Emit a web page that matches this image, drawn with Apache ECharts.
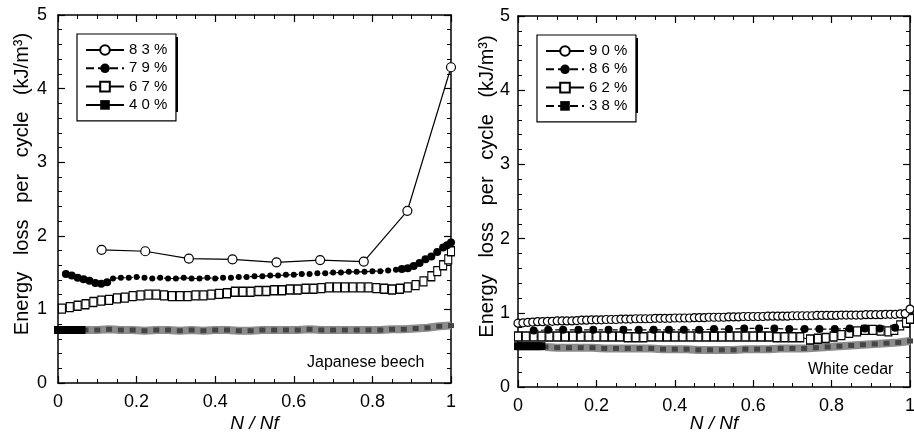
<!DOCTYPE html>
<html lang="en">
<head>
<meta charset="UTF-8">
<title>Energy loss per cycle</title>
<script src="https://cdn.jsdelivr.net/npm/echarts@6.0.0/dist/echarts.min.js"></script>
<style>html,body{margin:0;padding:0;background:#fff}</style>
</head>
<body>
<div id="main" style="width:914px;height:432px;"></div>
<script>
// ---------- Japanese beech ----------
var b83x = [0.111, 0.222, 0.333, 0.444, 0.556, 0.667, 0.778, 0.889, 1.0];
var b83y = [1.81, 1.79, 1.69, 1.68, 1.64, 1.67, 1.65, 2.34, 4.29];

var b79x = [0.02,0.035,0.05,0.065,0.08,0.095,0.11,0.125,
  0.14,0.16,0.18,0.20,0.22,0.24,0.26,0.28,0.30,0.32,0.34,0.36,0.38,0.40,0.42,0.44,0.46,0.48,0.50,
  0.52,0.54,0.56,0.58,0.60,0.62,0.64,0.66,0.68,0.70,0.72,0.74,0.76,0.78,0.80,0.82,0.84,0.86,
  0.875,0.89,0.905,0.92,0.935,0.95,0.965,0.98,0.99,1.0];
var b79y = [1.48,1.46,1.43,1.41,1.39,1.36,1.35,1.37,
  1.42,1.43,1.43,1.44,1.43,1.42,1.43,1.42,1.42,1.43,1.42,1.42,1.43,1.42,1.43,1.43,1.44,1.44,1.45,
  1.45,1.46,1.46,1.47,1.47,1.48,1.48,1.49,1.49,1.50,1.50,1.51,1.51,1.51,1.52,1.52,1.53,1.54,
  1.55,1.56,1.59,1.63,1.68,1.72,1.78,1.84,1.87,1.91];

var b67x = [0.01,0.03,0.05,0.07,0.09,0.11,0.13,0.15,0.17,0.19,0.21,0.23,0.25,0.27,0.29,0.31,0.33,0.35,
  0.37,0.39,0.41,0.43,0.45,0.47,0.49,0.51,0.53,0.55,0.57,0.59,0.61,0.63,0.65,0.67,0.69,0.71,0.73,
  0.75,0.77,0.79,0.81,0.83,0.85,0.87,0.89,0.91,0.93,
  0.95,0.965,0.98,0.993,1.0];
var b67y = [1.01,1.03,1.05,1.07,1.10,1.12,1.13,1.15,1.16,1.18,1.19,1.20,1.20,1.19,1.18,1.18,1.18,1.19,
  1.19,1.20,1.21,1.22,1.24,1.24,1.24,1.25,1.25,1.26,1.26,1.27,1.27,1.28,1.28,1.29,1.30,1.30,1.30,
  1.30,1.30,1.30,1.29,1.28,1.27,1.28,1.30,1.33,1.38,
  1.45,1.52,1.60,1.68,1.79];

var blackX = [0, 0.01, 0.02, 0.03, 0.04, 0.05, 0.06];
var b40y = [0.72, 0.72, 0.72, 0.72, 0.72, 0.72, 0.72];

var bandX = [0.07,0.1,0.13,0.16,0.19,0.22,0.25,0.28,0.31,0.34,0.37,0.4,0.43,0.46,0.49,0.52,
  0.55,0.58,0.61,0.64,0.67,0.7,0.73,0.76,0.79,0.82,0.85,0.88,0.91,0.94,0.97,1.0];
var b40band = [0.72,0.72,0.73,0.72,0.72,0.71,0.72,0.72,0.71,0.72,0.71,0.72,0.72,0.71,0.71,0.72,
  0.72,0.72,0.72,0.73,0.72,0.72,0.72,0.72,0.72,0.72,0.73,0.73,0.74,0.75,0.77,0.78];

// ---------- White cedar ----------
var xFine = [0,0.0125,0.025,0.0375,0.05,0.0625,0.075,0.0875,0.1,0.1125,0.125,0.1375,0.15,0.1625,0.175,0.1875,
  0.2,0.2125,0.225,0.2375,0.25,0.2625,0.275,0.2875,0.3,0.3125,0.325,0.3375,0.35,0.3625,0.375,0.3875,
  0.4,0.4125,0.425,0.4375,0.45,0.4625,0.475,0.4875,0.5,0.5125,0.525,0.5375,0.55,0.5625,0.575,0.5875,
  0.6,0.6125,0.625,0.6375,0.65,0.6625,0.675,0.6875,0.7,0.7125,0.725,0.7375,0.75,0.7625,0.775,0.7875,
  0.8,0.8125,0.825,0.8375,0.85,0.8625,0.875,0.8875,0.9,0.9125,0.925,0.9375,0.95,0.9625,0.975,0.9875,1.0];
var w90y = [0.86,0.865,0.87,0.875,0.88,0.88,0.885,0.885,0.89,0.89,0.89,0.89,0.895,0.9,0.9,0.905,
  0.905,0.905,0.91,0.91,0.91,0.915,0.915,0.915,0.92,0.92,0.92,0.92,0.925,0.925,0.925,0.925,
  0.93,0.93,0.93,0.93,0.935,0.935,0.935,0.94,0.94,0.94,0.94,0.945,0.945,0.945,0.95,0.95,
  0.95,0.95,0.95,0.955,0.955,0.955,0.955,0.955,0.96,0.96,0.96,0.96,0.96,0.965,0.965,0.965,
  0.965,0.965,0.97,0.97,0.97,0.97,0.97,0.975,0.975,0.975,0.975,0.98,0.98,0.98,0.985,0.99,1.05];

var w86x = [0.04,0.077,0.115,0.154,0.192,0.231,0.269,0.308,0.346,0.385,0.423,0.462,0.5,
  0.538,0.577,0.615,0.654,0.692,0.731,0.769,0.808,0.846,0.885,0.923,0.962,1.0];
var w86y = [0.76,0.77,0.77,0.77,0.77,0.77,0.77,0.77,0.77,0.77,0.77,0.77,0.78,
  0.78,0.79,0.79,0.79,0.78,0.78,0.78,0.78,0.79,0.79,0.79,0.8,1.02];

var w62x = [0,0.02,0.04,0.06,0.08,0.1,0.12,0.14,0.16,0.18,0.2,0.22,0.24,0.26,0.28,0.3,0.32,0.34,0.36,
  0.38,0.4,0.42,0.44,0.46,0.48,0.5,0.52,0.54,0.56,0.58,0.6,0.62,0.64,0.66,0.68,0.7,0.72,
  0.745,0.765,0.785,0.805,0.825,0.845,0.865,0.885,0.905,0.925,0.945,0.96,0.975,0.99,1.0];
var w62y = [0.68,0.68,0.68,0.68,0.68,0.68,0.68,0.68,0.68,0.68,0.68,0.68,0.68,0.68,0.67,0.67,0.67,0.68,0.68,
  0.68,0.68,0.68,0.68,0.68,0.68,0.68,0.68,0.68,0.68,0.68,0.68,0.68,0.68,0.67,0.67,0.67,0.67,
  0.64,0.65,0.66,0.68,0.70,0.73,0.75,0.77,0.77,0.76,0.75,0.77,0.83,0.87,0.92];

var w38y = [0.55, 0.55, 0.55, 0.55, 0.55, 0.55, 0.55];
var w38band = [0.54,0.53,0.53,0.53,0.53,0.52,0.52,0.52,0.52,0.52,0.51,0.51,0.51,0.5,0.5,0.5,
  0.5,0.51,0.51,0.51,0.52,0.52,0.52,0.53,0.54,0.55,0.56,0.57,0.58,0.59,0.6,0.62];

var xTicks = ['0', '0.2', '0.4', '0.6', '0.8', '1'];
var yTicks = ['0', '1', '2', '3', '4', '5'];

var FONT = '"Liberation Sans", Arial, sans-serif';

function pts(xs, ys) {
    var out = [];
    for (var i = 0; i < xs.length; i++) out.push([xs[i], ys[i]]);
    return out;
}

function xAx(grid, pos, labels, gap) {
    return {
        type: 'value', gridIndex: grid, position: pos, min: 0, max: 1, interval: 0.2,
        axisLine: {show: true, onZero: false, lineStyle: {color: '#000', width: 1.5}},
        axisTick: {show: true, inside: true, length: 7, lineStyle: {color: '#000', width: 1.2}},
        minorTick: {show: true, splitNumber: 4, length: 4, lineStyle: {color: '#000', width: 1}},
        splitLine: {show: false},
        axisLabel: {show: labels, margin: 10, color: '#000', fontSize: 18, fontFamily: FONT,
            formatter: function (v) { return xTicks[Math.round(v / 0.2)]; }},
        name: labels ? 'N / Nf' : '', nameLocation: 'middle', nameGap: gap || 0, nameMoveOverlap: false,
        nameTextStyle: {color: '#000', fontSize: 19, fontStyle: 'italic', fontFamily: FONT}
    };
}

function yAx(grid, pos, labels, margin, gap) {
    return {
        type: 'value', gridIndex: grid, position: pos, min: 0, max: 5, interval: 1,
        axisLine: {show: true, onZero: false, lineStyle: {color: '#000', width: 1.5}},
        axisTick: {show: true, inside: true, length: 7, lineStyle: {color: '#000', width: 1.2}},
        minorTick: {show: true, splitNumber: 5, length: 4, lineStyle: {color: '#000', width: 1}},
        splitLine: {show: false},
        axisLabel: {show: labels, margin: margin, color: '#000', fontSize: 18, fontFamily: FONT,
            formatter: function (v) { return yTicks[Math.round(v)]; }},
        name: labels ? 'Energy   loss   per   cycle   (kJ/m\u00B3)' : '', nameLocation: 'middle',
        nameGap: gap, nameMoveOverlap: false,
        nameTextStyle: {color: '#000', fontSize: 20, fontFamily: FONT, padding: [0, 0, 0, 30]}
    };
}

function openSeries(name, xi, yi, data, sym, size, dashed) {
    return {
        name: name, type: 'line', xAxisIndex: xi, yAxisIndex: yi, data: data,
        symbol: sym, symbolSize: size, showAllSymbol: true,
        itemStyle: {color: '#fff', borderColor: '#000', borderWidth: 1.2},
        lineStyle: {color: '#000', width: 1.2, type: dashed ? 'dashed' : 'solid'}
    };
}

function fullSeries(name, xi, yi, data, sym, size, dashed) {
    return {
        name: name, type: 'line', xAxisIndex: xi, yAxisIndex: yi, data: data,
        symbol: sym, symbolSize: size, showAllSymbol: true,
        itemStyle: {color: '#000'},
        lineStyle: {color: '#000', width: 1.2, type: dashed ? 'dashed' : 'solid'}
    };
}

function bandSeries(name, xi, yi, data) {
    return {
        name: name, type: 'line', xAxisIndex: xi, yAxisIndex: yi, data: data,
        symbol: 'rect', symbolSize: [6, 5], showAllSymbol: true,
        itemStyle: {color: '#444'},
        lineStyle: {color: '#8c8c8c', width: 8}
    };
}

function legendFor(names, left, top) {
    return {
        data: names, orient: 'vertical', left: left, top: top,
        itemWidth: 38, itemHeight: 12, itemGap: 3.3,
        padding: [8.5, 8.6, 8.5, 8],
        backgroundColor: '#fff', borderColor: '#000', borderWidth: 1.2, borderRadius: 0,
        selectedMode: false, z: 5,
        textStyle: {color: '#000', fontSize: 15, fontFamily: FONT, lineHeight: 12}
    };
}

var myChart = echarts.init(document.getElementById('main'));

var midSize = function (v) { return (v[0] < 0.13 || v[0] > 0.87) ? 8 : 6; };

myChart.setOption({
    animation: false,
    backgroundColor: '#fff',
    grid: [
        {left: 58, right: 463, top: 15, bottom: 49, containLabel: false, outerBoundsMode: 'none'},
        {left: 518, right: 4, top: 16, bottom: 45, containLabel: false, outerBoundsMode: 'none'}
    ],
    xAxis: [xAx(0, 'bottom', true, 31), xAx(0, 'top', false), xAx(1, 'bottom', true, 27), xAx(1, 'top', false)],
    yAxis: [yAx(0, 'left', true, 11, 26), yAx(0, 'right', false, 0, 0),
            yAx(1, 'left', true, 8, 21), yAx(1, 'right', false, 0, 0)],
    legend: [
        legendFor(['8 3 %', '7 9 %', '6 7 %', '4 0 %'], 77, 34),
        legendFor(['9 0 %', '8 6 %', '6 2 %', '3 8 %'], 537, 35)
    ],
    graphic: [
        {type: 'rect', z: 1, shape: {x: 80, y: 37, width: 98, height: 75}, style: {fill: '#000'}},
        {type: 'rect', z: 1, shape: {x: 540, y: 38, width: 98, height: 75}, style: {fill: '#000'}},
        {type: 'text', left: 307, top: 355, style: {text: 'Japanese beech', fill: '#000', font: '16px ' + FONT}},
        {type: 'text', left: 808, top: 362, style: {text: 'White cedar', fill: '#000', font: '16px ' + FONT}}
    ],
    series: [
        bandSeries('b40band', 0, 0, pts(bandX, b40band)),
        fullSeries('4 0 %', 0, 0, pts(blackX, b40y), 'rect', 8, false),
        openSeries('6 7 %', 0, 0, pts(b67x, b67y), 'rect', [7, 9], false),
        fullSeries('7 9 %', 0, 0, pts(b79x, b79y), 'circle', midSize, true),
        openSeries('8 3 %', 0, 0, pts(b83x, b83y), 'circle', 9, false),

        bandSeries('w38band', 2, 2, pts(bandX, w38band)),
        fullSeries('3 8 %', 2, 2, pts(blackX, w38y), 'rect', 8, true),
        openSeries('6 2 %', 2, 2, pts(w62x, w62y), 'rect', [7, 9], false),
        fullSeries('8 6 %', 2, 2, pts(w86x, w86y), 'circle', 8, true),
        openSeries('9 0 %', 2, 2, pts(xFine, w90y), 'circle', 8, false)
    ]
});
</script>
</body>
</html>
